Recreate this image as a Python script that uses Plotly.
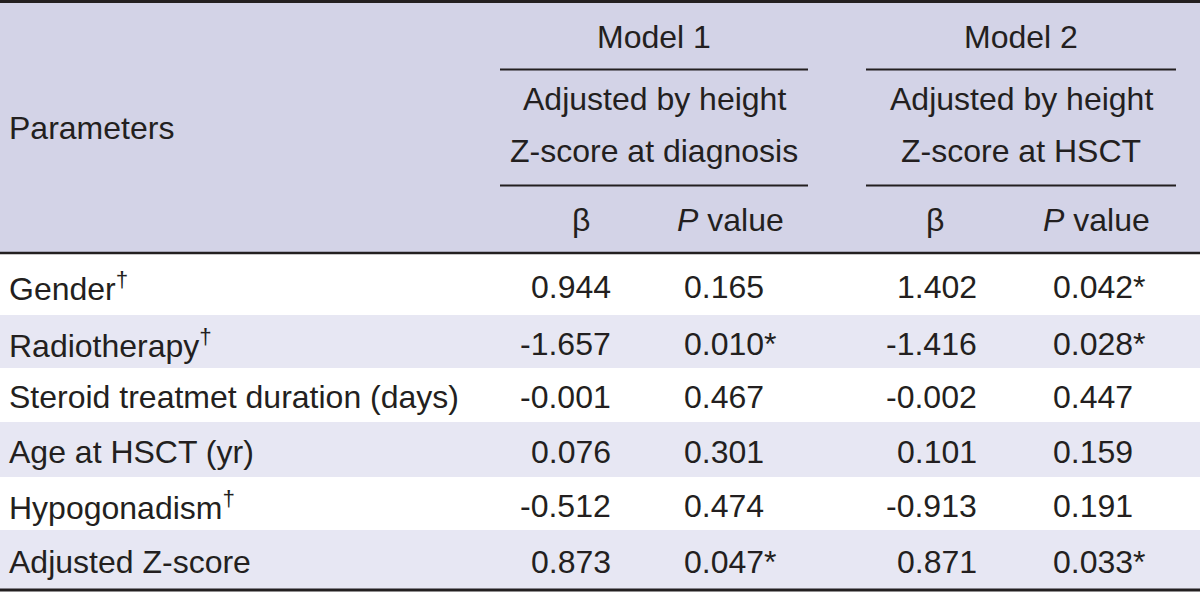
import plotly.graph_objects as go

# ---- data ----
parameters = ["Gender<sup>†</sup>", "Radiotherapy<sup>†</sup>", "Steroid treatmet duration (days)",
              "Age at HSCT (yr)", "Hypogonadism<sup>†</sup>", "Adjusted Z-score"]
beta_model1 = ["0.944", "-1.657", "-0.001", "0.076", "-0.512", "0.873"]
p_model1 = ["0.165", "0.010*", "0.467", "0.301", "0.474", "0.047*"]
beta_model2 = ["1.402", "-1.416", "-0.002", "0.101", "-0.913", "0.871"]
p_model2 = ["0.042*", "0.028*", "0.447", "0.159", "0.191", "0.033*"]
model_titles = ["Model 1", "Model 2"]
model_subtitles = [["Adjusted by height", "Z-score at diagnosis"],
                   ["Adjusted by height", "Z-score at HSCT"]]
col_headers = ["β", "<i>P</i> value"]
param_header = "Parameters"

# ---- style ----
W, H = 1200, 593
FONT = "Liberation Sans, Arial, sans-serif"
FS = 32
TXT = "#231f20"
LINE = "#231f20"
HEAD_BG = "#d3d3e7"
STRIPE = "#e7e7f3"

row_tops = [254, 315, 368, 422, 477, 530]
table_bottom = 589
model_spans = [(500, 808), (866, 1176)]
beta_right = [612, 978]
p_left = [683, 1052]
beta_center = [581, 935]
pval_center = [730, 1096]

fig = go.Figure()
shapes = []
ann = []

# header background
shapes.append(dict(type="rect", x0=0, x1=W, y0=2, y1=253, fillcolor=HEAD_BG, line_width=0, layer="below"))
# striped rows
for i in range(len(parameters)):
    y0 = row_tops[i]
    y1 = row_tops[i + 1] if i + 1 < len(row_tops) else table_bottom
    if i % 2 == 1:
        shapes.append(dict(type="rect", x0=0, x1=W, y0=y0, y1=y1, fillcolor=STRIPE, line_width=0, layer="below"))

# rules
for y, w in [(1.5, 3), (253, 2.5), (table_bottom + 1, 3)]:
    shapes.append(dict(type="line", x0=0, x1=W, y0=y, y1=y, line=dict(color=LINE, width=w)))
for (a, b) in model_spans:
    for y in [69.5, 185.5]:
        shapes.append(dict(type="line", x0=a, x1=b, y0=y, y1=y, line=dict(color=LINE, width=2)))

def add_text(x, y, text, anchor="center"):
    ann.append(dict(x=x, y=y, text=text, xref="x", yref="y", showarrow=False,
                    xanchor=anchor, yanchor="middle", borderpad=0,
                    font=dict(family=FONT, size=FS, color=TXT)))

OFF = 0
add_text(8, 128 + OFF, param_header, "left")
for k in range(2):
    cx = (model_spans[k][0] + model_spans[k][1]) / 2
    add_text(cx, 37 + OFF, model_titles[k])
    add_text(cx, 99 + OFF, model_subtitles[k][0])
    add_text(cx, 151 + OFF, model_subtitles[k][1])
    add_text(beta_center[k], 220 + OFF, col_headers[0])
    add_text(pval_center[k], 220 + OFF, col_headers[1])

for i, name in enumerate(parameters):
    y0 = row_tops[i]
    y1 = row_tops[i + 1] if i + 1 < len(row_tops) else table_bottom
    yc = (y0 + y1) / 2 + 2
    if i == 0:
        yc = 287
    add_text(8, yc + OFF, name, "left")
    add_text(beta_right[0], yc + OFF, beta_model1[i], "right")
    add_text(p_left[0], yc + OFF, p_model1[i], "left")
    add_text(beta_right[1], yc + OFF, beta_model2[i], "right")
    add_text(p_left[1], yc + OFF, p_model2[i], "left")

fig.update_layout(
    width=W, height=H, margin=dict(l=0, r=0, t=0, b=0),
    paper_bgcolor="white", plot_bgcolor="white",
    xaxis=dict(range=[0, W], visible=False, fixedrange=True),
    yaxis=dict(range=[H, 0], visible=False, fixedrange=True),
    shapes=shapes, annotations=ann, showlegend=False,
)
fig.write_html("out.html", config={"displayModeBar": False},
               post_script="document.body.style.margin='0';document.body.style.overflow='hidden';")
